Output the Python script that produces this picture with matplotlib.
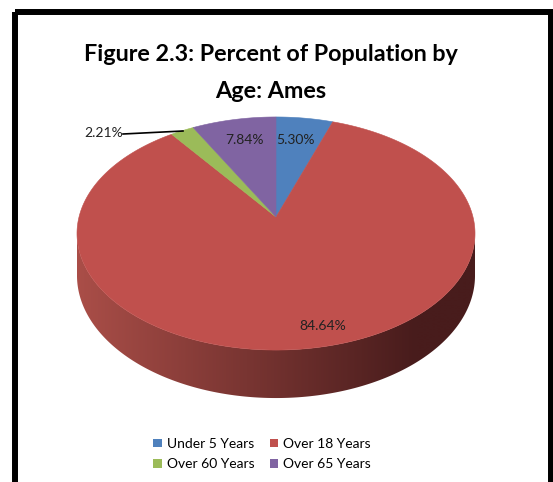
import numpy as np
import matplotlib
matplotlib.use("Agg")
import matplotlib.pyplot as plt
from matplotlib.patches import Polygon, Rectangle, Patch

# --------------------------------------------------------------------------- #
# Data
# --------------------------------------------------------------------------- #
categories = ["Under 5 Years", "Over 18 Years", "Over 60 Years", "Over 65 Years"]
shares = [5.30, 84.64, 2.21, 7.84]
pct_labels = ["5.30%", "84.64%", "2.21%", "7.84%"]
colors = ["#4F81BD", "#C0504D", "#9BBB59", "#8064A2"]
title_lines = ["Figure 2.3: Percent of Population by", "Age: Ames"]

FONT = ["Lato", "DejaVu Sans"]
plt.rcParams["font.family"] = FONT

W, H = 553, 482
fig = plt.figure(figsize=(W / 100, H / 100), dpi=100)
ax = fig.add_axes([0, 0, 1, 1])
ax.set_xlim(0, W); ax.set_ylim(H, 0); ax.axis("off")

# --------------------------------------------------------------------------- #
# Tilted pie geometry in pixel space (mild perspective, Excel-like 3-D pie)
# --------------------------------------------------------------------------- #
CX, CY = 276, 217          # apex of the slices
A, B = 197, 114.2          # semi axes
K = 0.1416                 # perspective shrink of the far half
DEPTH = 48                 # side wall height at the front


def rim(theta):
    """theta in degrees, clockwise from 12 o'clock."""
    t = np.radians(theta)
    u, v = np.sin(t), np.cos(t)
    s = 1 / (1 + K * v)
    return CX + A * u * s, CY - B * v * s, s


# -- side wall with horizontal shading -------------------------------------- #
th = np.linspace(0, 360, 3601)
xr, yr, sr = rim(th)
iR = np.argmax(xr)
iL = np.argmin(xr)
front = np.arange(iR, iL + 1)
top_x, top_y = xr[front], yr[front]
bot_y = top_y + DEPTH * sr[front] * (1 - K)
side_pts = np.concatenate([np.c_[top_x, top_y], np.c_[top_x[::-1], bot_y[::-1]]])
side = Polygon(side_pts, closed=True, facecolor="none", edgecolor="none")
ax.add_patch(side)

c_left = np.array([170, 78, 72]) / 255
c_right = np.array([72, 28, 28]) / 255
gx = np.linspace(0, 1, 400)
ramp = np.clip(gx / 0.85, 0, 1)[:, None]
grad = (c_left * (1 - ramp) + c_right * ramp)[None, :, :]
im = ax.imshow(grad, extent=[top_x.min(), top_x.max(), bot_y.max() + 2, top_y.min() - 2],
               aspect="auto", interpolation="bilinear", zorder=1)
im.set_clip_path(side)
ax.set_xlim(0, W); ax.set_ylim(H, 0)

# -- top face slices -------------------------------------------------------- #
start = 0.0
for val, col in zip(shares, colors):
    end = start + val / sum(shares) * 360
    tt = np.linspace(start, end, max(int(end - start) * 4, 4))
    px, py, _ = rim(tt)
    pts = np.vstack([[CX, CY], np.c_[px, py]])
    ax.add_patch(Polygon(pts, closed=True, facecolor=col, edgecolor=col,
                         lw=0.4, zorder=2))
    start = end

# -- data labels ------------------------------------------------------------ #
label_pos = [(295, 140), (323, 326), (104, 133), (245, 140)]
for txt, (lx, ly) in zip(pct_labels, label_pos):
    ax.text(lx, ly, txt, ha="center", va="center", fontsize=10,
            color="#222222", zorder=4)
ax.plot([123, 183], [134, 131], color="black", lw=1.2, zorder=3)

# -- title ------------------------------------------------------------------ #
ax.text(271, 61, title_lines[0], ha="center", va="baseline", fontsize=16.8,
        fontweight="bold", color="black")
ax.text(271, 98, title_lines[1], ha="center", va="baseline", fontsize=16.8,
        fontweight="bold", color="black")

# -- legend (row-wise order like Excel) --------------------------------------- #
order = [0, 2, 1, 3]
handles = [Patch(facecolor=colors[i], edgecolor="none") for i in order]
fig.legend(handles, [categories[i] for i in order], loc="center",
           bbox_to_anchor=(262 / W, 1 - 454 / H), ncol=2, frameon=False,
           fontsize=10, handlelength=0.6, handleheight=0.6, handletextpad=0.35,
           columnspacing=1.1, labelspacing=0.6)

# -- chart frame ------------------------------------------------------------ #
ax.add_patch(Rectangle((15, 12), 536, 490, fill=False, edgecolor="black",
                       lw=4.3, zorder=5, clip_on=False))

fig.savefig("out.png", dpi=100, facecolor="white")
